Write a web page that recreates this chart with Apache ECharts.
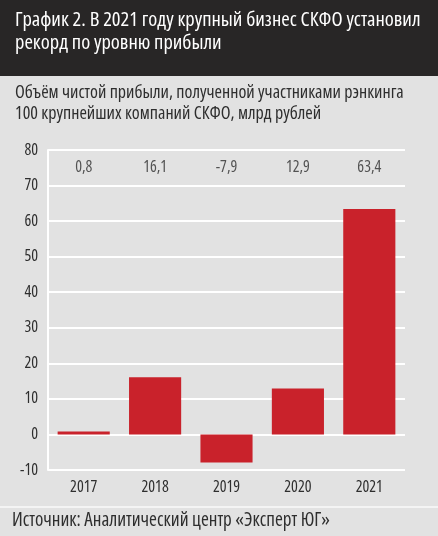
<!DOCTYPE html>
<html>
<head>
<meta charset="utf-8">
<script src="https://cdn.jsdelivr.net/npm/echarts@6/dist/echarts.min.js"></script>
<style>
    html, body {margin: 0; padding: 0; background: #e2e2e2;}
    #chart {width: 438px; height: 536px;}
</style>
</head>
<body>
<div id="chart"></div>
<script>
// данные графика
var years = ['2017', '2018', '2019', '2020', '2021'];
var profit = [0.8, 16.1, -7.9, 12.9, 63.4];
var yTicks = [-10, 0, 10, 20, 30, 40, 50, 60, 70, 80];
var labelRow = 75; // строка подписей значений

var font = '"Open Sans", sans-serif';
var textColor = '#2e2e2e';

function fmt(v) {
    return String(v).replace('.', ',');
}

// общий стиль подписей осей (узкое начертание)
var axisText = {color: textColor, fontSize: 16, fontWeight: 'condensed', fontFamily: font};

var myChart = echarts.init(document.getElementById('chart'));
myChart.setOption({
    backgroundColor: '#e2e2e2',
    animation: false,
    graphic: [
        {
            type: 'rect',
            shape: {x: 0, y: 0, width: 438, height: 76},
            style: {fill: '#282626'}
        },
        {
            type: 'text',
            left: 15,
            top: 9,
            style: {
                text: 'График 2. В 2021 году крупный бизнес СКФО установил\nрекорд по уровню прибыли',
                fill: '#ffffff',
                font: 'condensed 20.5px ' + font,
                lineHeight: 23
            }
        },
        {
            type: 'text',
            left: 15,
            top: 82,
            style: {
                text: 'Объём чистой прибыли, полученной участниками рэнкинга\n100 крупнейших компаний СКФО, млрд рублей',
                fill: textColor,
                font: 'condensed 18px ' + font,
                lineHeight: 21
            }
        },
        {
            type: 'rect',
            shape: {x: 0, y: 506, width: 438, height: 2},
            style: {fill: '#f4f4f4'}
        },
        {
            type: 'text',
            left: 12,
            top: 511,
            style: {
                text: 'Источник: Аналитический центр «Эксперт ЮГ»',
                fill: textColor,
                font: 'condensed 19px ' + font
            }
        }
    ],
    grid: {left: 48, right: 33, top: 150, bottom: 66},
    xAxis: {
        type: 'category',
        data: years,
        axisLine: {show: false},
        axisTick: {show: false},
        axisLabel: Object.assign({margin: 9}, axisText)
    },
    yAxis: {
        type: 'value',
        min: yTicks[0],
        max: yTicks[yTicks.length - 1],
        interval: 10,
        axisLine: {show: true, lineStyle: {color: '#ffffff', width: 2}},
        axisTick: {show: false},
        splitLine: {lineStyle: {color: '#ffffff', width: 2}},
        axisLabel: Object.assign({margin: 10}, axisText)
    },
    series: [
        {
            type: 'bar',
            data: profit,
            barWidth: '73%',
            itemStyle: {color: '#c9222b'}
        },
        {
            type: 'scatter',
            symbolSize: 0,
            data: profit.map(function () { return labelRow; }),
            label: Object.assign({
                show: true,
                position: 'inside',
                formatter: function (p) {
                    return fmt(profit[p.dataIndex]);
                }
            }, axisText)
        }
    ]
});
</script>
</body>
</html>
